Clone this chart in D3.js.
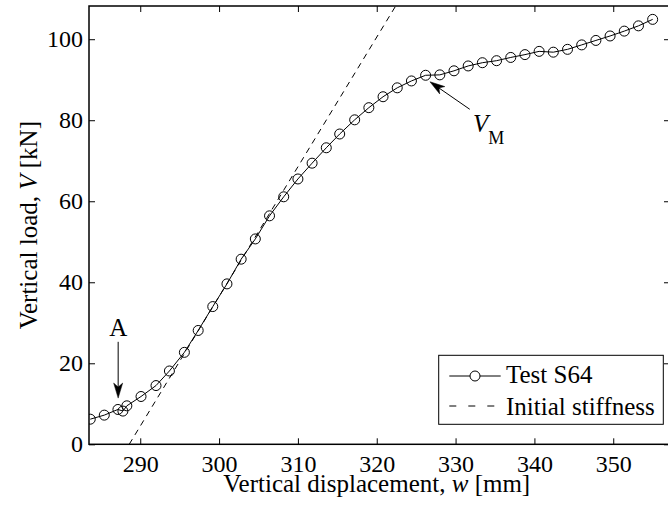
<!DOCTYPE html>
<html>
<head>
<meta charset="utf-8">
<script src="https://cdn.jsdelivr.net/npm/d3@7"></script>
<style>
  body { margin: 0; background: #fff; }
</style>
</head>
<body>
<div id="chart"></div>
<script>
// Test S64 measured points
const dispW = [283.66, 285.44, 287.17, 287.8, 288.3, 290.1, 292.0, 293.7, 295.6, 297.35, 299.2,
  301.0, 302.8, 304.6, 306.4, 308.2, 310.0, 311.8, 313.6, 315.3, 317.2, 319.0, 320.8, 322.6,
  324.4, 326.2, 328.0, 329.8, 331.6, 333.4, 335.2, 337.0, 338.8, 340.6, 342.4, 344.2, 346.0,
  347.8, 349.6, 351.4, 353.2, 355.0];
const loadV = [6.2, 7.2, 8.6, 8.2, 9.5, 11.8, 14.5, 18.1, 22.7, 28.1, 34.0,
  39.6, 45.7, 50.7, 56.4, 61.1, 65.5, 69.4, 73.2, 76.6, 80.1, 83.1, 85.8, 88.0,
  89.7, 91.1, 91.2, 92.2, 93.4, 94.2, 94.7, 95.5, 96.2, 97.0, 96.8, 97.5, 98.6,
  99.7, 100.8, 102.0, 103.3, 104.9];

// Initial stiffness line (end points)
const stiffW = [288.6, 322.4];
const stiffV = [0, 108.2];

const xTicks = [290, 300, 310, 320, 330, 340, 350];
const yTicks = [0, 20, 40, 60, 80, 100];
const xDomain = [283.5, 357.2];
const yDomain = [0, 108.2];

const W = 668, H = 507;
const margin = {top: 6, left: 89, right: -2, bottom: 62.7};
const width = W - margin.left - margin.right;
const height = H - margin.top - margin.bottom;
const fs = 25;
const tickFs = 24;

// set the serif face on a text selection
const serif = sel => sel.attr("font-family", '"Liberation Serif"')
  .style("font-family", "Liberation Serif");

const svg = d3.select("#chart").append("svg")
  .attr("width", W).attr("height", H);

const g = svg.append("g").attr("transform", `translate(${margin.left},${margin.top})`);

const x = d3.scaleLinear().domain(xDomain).range([0, width]);
const y = d3.scaleLinear().domain(yDomain).range([height, 0]);

svg.append("defs").append("clipPath").attr("id", "clip")
  .append("rect").attr("width", width).attr("height", height);

// Axes with inward ticks
const tickLen = 6;
const xAxis = g.append("g").attr("transform", `translate(0,${height})`)
  .call(d3.axisBottom(x).tickValues(xTicks).tickSizeInner(-tickLen).tickSizeOuter(0).tickPadding(11));
const xTop = g.append("g")
  .call(d3.axisTop(x).tickValues(xTicks).tickSizeInner(-tickLen).tickSizeOuter(0).tickFormat(""));
const yAxis = g.append("g")
  .call(d3.axisLeft(y).tickValues(yTicks).tickSizeInner(-tickLen).tickSizeOuter(0).tickPadding(6));
const yRight = g.append("g").attr("transform", `translate(${width},0)`)
  .call(d3.axisRight(y).tickValues(yTicks).tickSizeInner(-tickLen).tickSizeOuter(0).tickFormat(""));

[xAxis, xTop, yAxis, yRight].forEach(a => {
  a.attr("font-family", null).attr("font-size", tickFs);
  a.select(".domain").remove();
  a.selectAll("line").attr("stroke", "#000").attr("stroke-width", 1);
  a.selectAll("text").attr("fill", "#000").call(serif);
});

// Frame
g.append("rect").attr("width", width).attr("height", height)
  .attr("fill", "none").attr("stroke", "#000").attr("stroke-width", 1.5);

const plot = g.append("g").attr("clip-path", "url(#clip)");

// Initial stiffness (dashed)
plot.append("path")
  .datum(stiffW.map((d, i) => [d, stiffV[i]]))
  .attr("d", d3.line().x(d => x(d[0])).y(d => y(d[1])))
  .attr("fill", "none").attr("stroke", "#000").attr("stroke-width", 1)
  .attr("stroke-dasharray", "6,5");

// Test curve
const pts = dispW.map((d, i) => [d, loadV[i]]);
plot.append("path").datum(pts)
  .attr("d", d3.line().x(d => x(d[0])).y(d => y(d[1])))
  .attr("fill", "none").attr("stroke", "#000").attr("stroke-width", 1);

plot.selectAll(".mk").data(pts).join("circle")
  .attr("class", "mk")
  .attr("cx", d => x(d[0])).attr("cy", d => y(d[1])).attr("r", 5)
  .attr("fill", "none").attr("stroke", "#000").attr("stroke-width", 1);

// Arrow helper: from tail to tip (pixel coords)
function arrow(x1, y1, x2, y2) {
  const ang = Math.atan2(y2 - y1, x2 - x1);
  const L = 15, hw = 4.5, notch = 11;
  const ux = Math.cos(ang), uy = Math.sin(ang);
  const px = -uy, py = ux;
  g.append("line").attr("x1", x1).attr("y1", y1)
    .attr("x2", x2 - ux * notch).attr("y2", y2 - uy * notch)
    .attr("stroke", "#000").attr("stroke-width", 1);
  const head = [
    [x2, y2],
    [x2 - ux * L + px * hw, y2 - uy * L + py * hw],
    [x2 - ux * notch, y2 - uy * notch],
    [x2 - ux * L - px * hw, y2 - uy * L - py * hw]
  ];
  g.append("path").attr("d", "M" + head.map(p => p.join(",")).join("L") + "Z")
    .attr("fill", "#000").attr("stroke", "#000").attr("stroke-width", 0.5);
}

// Annotation A
arrow(x(287.2), y(25.3), x(287.2), y(11.4));
g.append("text").attr("x", x(287.2)).attr("y", y(26.7))
  .attr("text-anchor", "middle").attr("font-size", fs).call(serif).text("A");

// Annotation V_M
arrow(x(331.8), y(82.7), x(326.75), y(89.5));
const vm = g.append("text").attr("x", x(332.2)).attr("y", y(77.1))
  .attr("font-size", fs).call(serif);
vm.append("tspan").attr("font-style", "italic").text("V");
vm.append("tspan").attr("dy", 12).attr("font-size", 18).text("M");

// Axis labels
const xl = svg.append("text").attr("x", margin.left + x(320)).attr("y", 492)
  .attr("text-anchor", "middle").attr("font-size", fs).call(serif);
xl.append("tspan").text("Vertical displacement, ");
xl.append("tspan").attr("font-style", "italic").text("w");
xl.append("tspan").text(" [mm]");

const yl = svg.append("text")
  .attr("transform", `translate(37,${margin.top + height / 2}) rotate(-90)`)
  .attr("text-anchor", "middle").attr("font-size", fs).call(serif);
yl.append("tspan").text("Vertical load, ");
yl.append("tspan").attr("font-style", "italic").text("V");
yl.append("tspan").text(" [kN]");

// Legend
const lg = svg.append("g");
lg.append("rect").attr("x", 438.7).attr("y", 355.3).attr("width", 224.6).attr("height", 69)
  .attr("fill", "#fff").attr("stroke", "#000").attr("stroke-width", 1);
lg.append("line").attr("x1", 449.3).attr("x2", 500.7).attr("y1", 376).attr("y2", 376)
  .attr("stroke", "#000").attr("stroke-width", 1);
lg.append("circle").attr("cx", 475).attr("cy", 376).attr("r", 5)
  .attr("fill", "#fff").attr("stroke", "#000").attr("stroke-width", 1);
lg.append("text").attr("x", 506).attr("y", 383).attr("font-size", fs).call(serif).text("Test S64");
lg.append("line").attr("x1", 449.3).attr("x2", 500.7).attr("y1", 406).attr("y2", 406)
  .attr("stroke", "#000").attr("stroke-width", 1).attr("stroke-dasharray", "7,12");
lg.append("text").attr("x", 506).attr("y", 415).attr("font-size", fs).call(serif).text("Initial stiffness");
</script>
</body>
</html>
